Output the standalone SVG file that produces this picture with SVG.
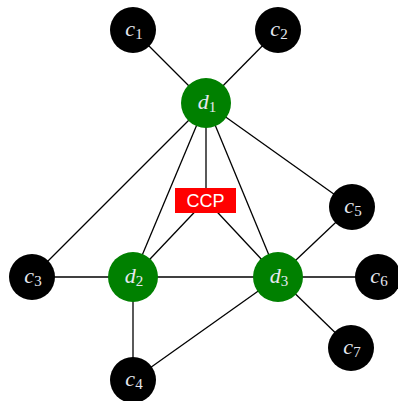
<svg xmlns="http://www.w3.org/2000/svg" width="398" height="401" viewBox="0 0 398 401">
  <style>
    .edge { stroke: #000; stroke-width: 1.3; fill: none; }
    .client { fill: #000; }
    .dc { fill: #008000; }
    .lbl { font-family: "Liberation Serif", "DejaVu Serif", serif; font-style: italic; font-size: 22px; fill: #e6e8f0; text-anchor: middle; }
    .sub { font-size: 15px; font-style: normal; }
    .ccp-text { font-family: "Liberation Sans", Arial, sans-serif; font-size: 18px; fill: #fff; text-anchor: middle; }
  </style>
  <rect width="398" height="401" fill="#fff"/>
  <g id="connectors">
    <line class="edge" x1="133" y1="30" x2="206" y2="103"/>
    <line class="edge" x1="278" y1="30" x2="206" y2="103"/>
    <line class="edge" x1="206" y1="103" x2="32" y2="277"/>
    <line class="edge" x1="206" y1="103" x2="133" y2="277"/>
    <line class="edge" x1="206" y1="103" x2="206" y2="200"/>
    <line class="edge" x1="206" y1="103" x2="278" y2="277"/>
    <line class="edge" x1="206" y1="103" x2="352" y2="207"/>
    <line class="edge" x1="206" y1="200" x2="133" y2="277"/>
    <line class="edge" x1="206" y1="200" x2="278" y2="277"/>
    <line class="edge" x1="32" y1="277" x2="133" y2="277"/>
    <line class="edge" x1="133" y1="277" x2="278" y2="277"/>
    <line class="edge" x1="278" y1="277" x2="378" y2="277"/>
    <line class="edge" x1="278" y1="277" x2="352" y2="207"/>
    <line class="edge" x1="278" y1="277" x2="351" y2="348"/>
    <line class="edge" x1="133" y1="277" x2="133" y2="380"/>
    <line class="edge" x1="133" y1="380" x2="278" y2="277"/>
  </g>
  <g id="c1"><circle class="client" cx="133" cy="30" r="23"/><text class="lbl" x="134" y="36">c<tspan class="sub" dy="3">1</tspan></text></g>
  <g id="c2"><circle class="client" cx="278" cy="30" r="23"/><text class="lbl" x="279" y="36">c<tspan class="sub" dy="3">2</tspan></text></g>
  <g id="d1"><circle class="dc" cx="206" cy="103" r="25"/><text class="lbl" x="207" y="109">d<tspan class="sub" dy="3">1</tspan></text></g>
  <g id="c5"><circle class="client" cx="352" cy="207" r="23"/><text class="lbl" x="353" y="213">c<tspan class="sub" dy="3">5</tspan></text></g>
  <g id="c3"><circle class="client" cx="32" cy="277" r="23"/><text class="lbl" x="33" y="283">c<tspan class="sub" dy="3">3</tspan></text></g>
  <g id="d2"><circle class="dc" cx="133" cy="277" r="25"/><text class="lbl" x="134" y="283">d<tspan class="sub" dy="3">2</tspan></text></g>
  <g id="d3"><circle class="dc" cx="278" cy="277" r="25"/><text class="lbl" x="279" y="283">d<tspan class="sub" dy="3">3</tspan></text></g>
  <g id="c6"><circle class="client" cx="378" cy="277" r="23"/><text class="lbl" x="379" y="283">c<tspan class="sub" dy="3">6</tspan></text></g>
  <g id="c7"><circle class="client" cx="351" cy="348" r="23"/><text class="lbl" x="352" y="354">c<tspan class="sub" dy="3">7</tspan></text></g>
  <g id="c4"><circle class="client" cx="133" cy="380" r="23"/><text class="lbl" x="134" y="386">c<tspan class="sub" dy="3">4</tspan></text></g>
  <g id="ccp"><rect x="175" y="188" width="61" height="25" fill="#f00"/><text class="ccp-text" x="205.5" y="207">CCP</text></g>
</svg>
